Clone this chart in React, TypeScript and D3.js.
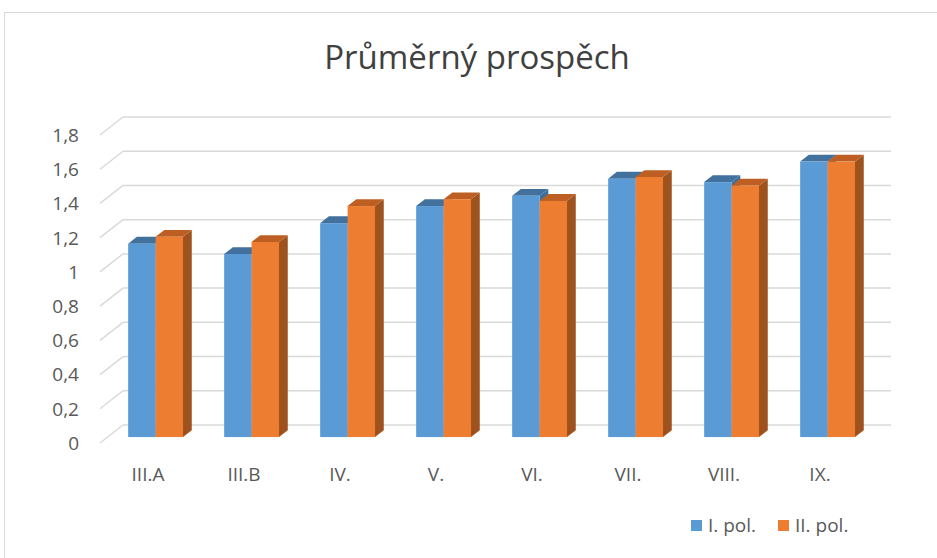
import { useEffect, useRef } from 'react';
import * as d3 from 'd3';

const categories = ['III.A', 'III.B', 'IV.', 'V.', 'VI.', 'VII.', 'VIII.', 'IX.'];
const seriesNames = ['I. pol.', 'II. pol.'];
const polI = [1.13, 1.07, 1.25, 1.35, 1.41, 1.51, 1.49, 1.61];
const polII = [1.17, 1.14, 1.35, 1.39, 1.38, 1.52, 1.47, 1.61];
const yTicks = [0, 0.2, 0.4, 0.6, 0.8, 1, 1.2, 1.4, 1.6, 1.8];

const faceColors = [
  { front: '#5b9bd5', top: '#41719c', side: '#3e6f9c' },
  { front: '#ed7d31', top: '#bd5f22', side: '#9e521d' },
];

export default function App() {
  const ref = useRef<SVGSVGElement | null>(null);

  useEffect(() => {
    if (!ref.current) return;
    const svg = d3.select(ref.current);
    svg.selectAll('*').remove();

    const font = "'Open Sans', sans-serif";

    // oblique 3d: depth runs up and to the right
    const depthX = 23;
    const depthY = -18;
    const barT0 = 0.33; // front of the bars as a fraction of the full depth
    const barT1 = 0.71;

    // front plane
    const x0 = d3.scaleBand().domain(categories).range([100, 868]).paddingInner(0).paddingOuter(0);
    const x1 = d3.scaleBand().domain(seriesNames).range([0, x0.bandwidth()]).paddingInner(0).paddingOuter(0.75);
    const y = d3.scaleLinear().domain([0, 1.8]).range([443, 135]);

    const pt = (x: number, yy: number, t: number) => [x + depthX * t, yy + depthY * t];

    // chart border
    svg.append('rect')
      .attr('x', 4.5).attr('y', 12.5)
      .attr('width', 960).attr('height', 600)
      .attr('fill', '#fff')
      .attr('stroke', '#d9d9d9')
      .attr('stroke-width', 1);

    // title
    svg.append('text')
      .attr('x', 477).attr('y', 69)
      .attr('text-anchor', 'middle')
      .style('font-family', font)
      .style('font-size', '33px')
      .style('fill', '#404040')
      .text('Průměrný prospěch');

    // gridlines: back wall + left side wall
    const grid = svg.append('g').attr('stroke', '#d9d9d9').attr('stroke-width', 1.5).attr('fill', 'none');
    yTicks.forEach(v => {
      const [bx, by] = pt(100, y(v), 1);
      const [ex] = pt(868, y(v), 1);
      grid.append('line').attr('x1', bx).attr('y1', by).attr('x2', ex).attr('y2', by);
      grid.append('line').attr('x1', 100).attr('y1', y(v)).attr('x2', bx).attr('y2', by);
    });

    // y tick labels
    svg.append('g').selectAll('text')
      .data(yTicks)
      .enter()
      .append('text')
      .attr('x', 79)
      .attr('y', d => y(d))
      .attr('dy', '0.36em')
      .attr('text-anchor', 'end')
      .style('font-family', font)
      .style('font-size', '19px')
      .style('fill', '#595959')
      .text(d => String(d).replace('.', ','));

    // x labels
    svg.append('g').selectAll('text')
      .data(categories)
      .enter()
      .append('text')
      .attr('x', d => (x0(d) as number) + x0.bandwidth() / 2)
      .attr('y', 481)
      .attr('text-anchor', 'middle')
      .style('font-family', font)
      .style('font-size', '19px')
      .style('fill', '#595959')
      .text(d => d);

    // bars
    const bars = svg.append('g');
    const poly = (pts: number[][]) => pts.map(p => p.join(',')).join(' ');
    categories.forEach((c, i) => {
      [polI[i], polII[i]].forEach((v, s) => {
        const xl = (x0(c) as number) + (x1(seriesNames[s]) as number);
        const xr = xl + x1.bandwidth();
        const yt = y(v);
        const yb = y(0);
        const col = faceColors[s];
        const g = bars.append('g');
        // right side face
        g.append('polygon')
          .attr('points', poly([pt(xr, yt, barT0), pt(xr, yt, barT1), pt(xr, yb, barT1), pt(xr, yb, barT0)]))
          .attr('fill', col.side);
        // top face
        g.append('polygon')
          .attr('points', poly([pt(xl, yt, barT0), pt(xl, yt, barT1), pt(xr, yt, barT1), pt(xr, yt, barT0)]))
          .attr('fill', col.top);
        // front face
        const [fx, fy] = pt(xl, yt, barT0);
        const [, fb] = pt(xl, yb, barT0);
        g.append('rect')
          .attr('x', fx).attr('y', fy)
          .attr('width', xr - xl).attr('height', fb - fy)
          .attr('fill', col.front);
      });
    });

    // legend
    const legend = svg.append('g');
    const legendX = [691, 778];
    seriesNames.forEach((name, s) => {
      legend.append('rect')
        .attr('x', legendX[s]).attr('y', 520)
        .attr('width', 11).attr('height', 11)
        .attr('fill', faceColors[s].front);
      legend.append('text')
        .attr('x', legendX[s] + 17).attr('y', 532)
        .style('font-family', font)
        .style('font-size', '19px')
        .style('fill', '#595959')
        .text(name);
    });
  }, []);

  return (
    <div style={{ position: 'absolute', left: 0, top: 0 }}>
      <svg ref={ref} width={937} height={558} style={{ display: 'block' }} />
    </div>
  );
}
